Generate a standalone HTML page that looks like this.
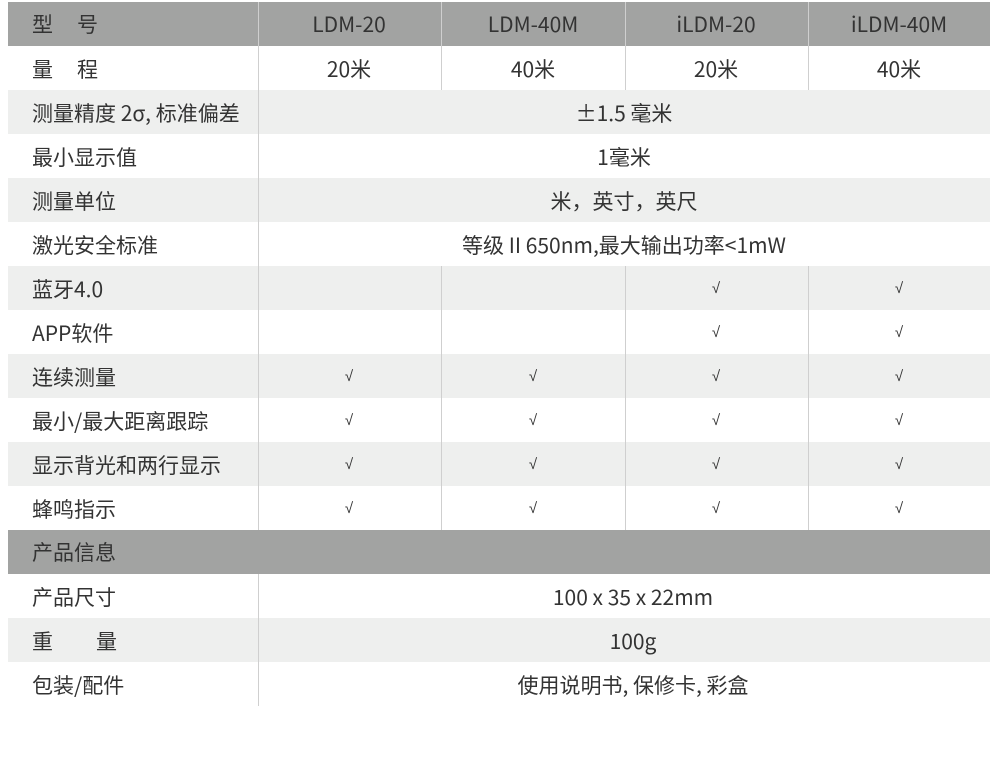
<!DOCTYPE html>
<html><head><meta charset="utf-8"><style>
body{margin:0;width:1000px;height:759px;background:#fff;position:relative;overflow:hidden;font-family:"Noto Sans CJK SC","Liberation Sans",sans-serif;color:#333;}
.r{position:absolute;left:8px;width:982px;height:44px;}
.g{background:#eeefee}.d{background:#a2a3a2}
.t{position:absolute;line-height:44px;font-size:21px;white-space:nowrap}
.c{transform:translateX(-50%);text-align:center}
.v{position:absolute;width:1px;background:#cfcfcf}
.ck{font-size:15px;font-family:"Liberation Sans",sans-serif}
</style></head><body>
<div class="r d" style="top:2px"></div>
<div class="r g" style="top:90px"></div>
<div class="r g" style="top:178px"></div>
<div class="r g" style="top:266px"></div>
<div class="r g" style="top:354px"></div>
<div class="r g" style="top:442px"></div>
<div class="r d" style="top:530px"></div>
<div class="r g" style="top:618px"></div>
<div class="v" style="left:258px;top:2px;height:528px"></div>
<div class="v" style="left:258px;top:574px;height:132px"></div>
<div class="v" style="left:441px;top:2px;height:88px"></div>
<div class="v" style="left:625px;top:2px;height:88px"></div>
<div class="v" style="left:808px;top:2px;height:88px"></div>
<div class="v" style="left:441px;top:266px;height:264px"></div>
<div class="v" style="left:625px;top:266px;height:264px"></div>
<div class="v" style="left:808px;top:266px;height:264px"></div>
<div class="t" style="left:32px;top:2px">型</div><div class="t" style="left:77px;top:2px">号</div>
<div class="t c" style="left:349px;top:2px">LDM-20</div>
<div class="t c" style="left:533px;top:2px">LDM-40M</div>
<div class="t c" style="left:716px;top:2px">iLDM-20</div>
<div class="t c" style="left:899px;top:2px">iLDM-40M</div>
<div class="t" style="left:32px;top:47px">量</div><div class="t" style="left:77px;top:47px">程</div>
<div class="t c" style="left:349px;top:47px">20米</div>
<div class="t c" style="left:533px;top:47px">40米</div>
<div class="t c" style="left:716px;top:47px">20米</div>
<div class="t c" style="left:899px;top:47px">40米</div>
<div class="t" style="left:32px;top:91px">测量精度 2σ, 标准偏差</div>
<div class="t c" style="left:624px;top:91px">±1.5 毫米</div>
<div class="t" style="left:32px;top:135px">最小显示值</div>
<div class="t c" style="left:624px;top:135px">1毫米</div>
<div class="t" style="left:32px;top:179px">测量单位</div>
<div class="t c" style="left:624px;top:179px">米，英寸，英尺</div>
<div class="t" style="left:32px;top:223px">激光安全标准</div>
<div class="t c" style="left:624px;top:223px">等级 II 650nm,最大输出功率&lt;1mW</div>
<div class="t" style="left:32px;top:267px">蓝牙4.0</div>
<div class="t c ck" style="left:716px;top:267px">√</div><div class="t c ck" style="left:899px;top:267px">√</div>
<div class="t" style="left:32px;top:311px">APP软件</div>
<div class="t c ck" style="left:716px;top:311px">√</div><div class="t c ck" style="left:899px;top:311px">√</div>
<div class="t" style="left:32px;top:355px">连续测量</div>
<div class="t c ck" style="left:349px;top:355px">√</div><div class="t c ck" style="left:533px;top:355px">√</div><div class="t c ck" style="left:716px;top:355px">√</div><div class="t c ck" style="left:899px;top:355px">√</div>
<div class="t" style="left:32px;top:399px">最小/最大距离跟踪</div>
<div class="t c ck" style="left:349px;top:399px">√</div><div class="t c ck" style="left:533px;top:399px">√</div><div class="t c ck" style="left:716px;top:399px">√</div><div class="t c ck" style="left:899px;top:399px">√</div>
<div class="t" style="left:32px;top:443px">显示背光和两行显示</div>
<div class="t c ck" style="left:349px;top:443px">√</div><div class="t c ck" style="left:533px;top:443px">√</div><div class="t c ck" style="left:716px;top:443px">√</div><div class="t c ck" style="left:899px;top:443px">√</div>
<div class="t" style="left:32px;top:487px">蜂鸣指示</div>
<div class="t c ck" style="left:349px;top:487px">√</div><div class="t c ck" style="left:533px;top:487px">√</div><div class="t c ck" style="left:716px;top:487px">√</div><div class="t c ck" style="left:899px;top:487px">√</div>
<div class="t" style="left:32px;top:530px">产品信息</div>
<div class="t" style="left:32px;top:575px">产品尺寸</div>
<div class="t c" style="left:633px;top:575px">100 x 35 x 22mm</div>
<div class="t" style="left:32px;top:619px">重</div><div class="t" style="left:96px;top:619px">量</div>
<div class="t c" style="left:633px;top:619px">100g</div>
<div class="t" style="left:32px;top:663px">包装/配件</div>
<div class="t c" style="left:633px;top:663px">使用说明书, 保修卡, 彩盒</div>
</body></html>
